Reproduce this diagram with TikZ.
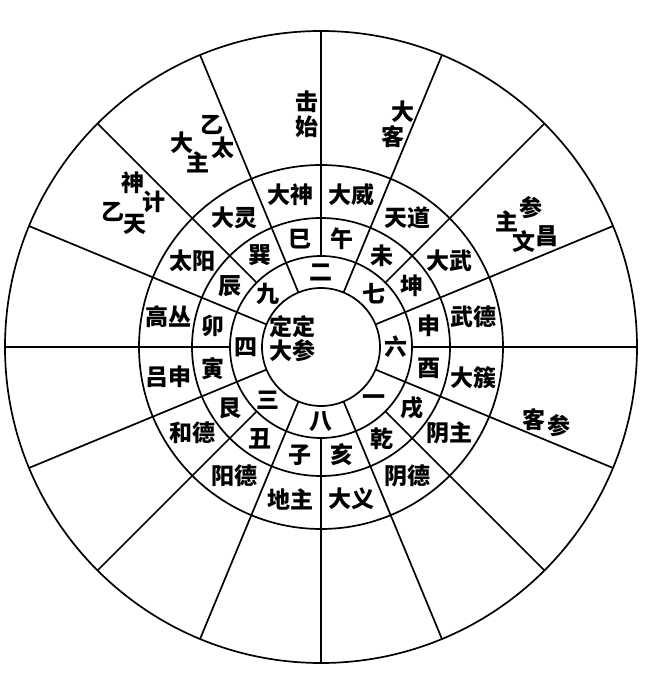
\documentclass[tikz,border=0pt]{standalone}
\usepackage{fontspec}
\newfontfamily\cjk{Noto Sans CJK SC}
\usepackage{tikz}
\usetikzlibrary{positioning}

\begin{document}
\begin{tikzpicture}[x=1pt, y=1pt,
        ring/.style={line width=1.7pt},
        lbl/.style={font={\cjk\bfseries\fontsize{23}{23}\selectfont}, inner sep=0pt}
    ]
    \useasboundingbox (-321,-346) rectangle (328,347);
    % Circles -----------------------------------------------------------
    \foreach \r in {59,91,129,182,316}
        \draw[ring] (0,0) circle (\r);
    % Spokes ------------------------------------------------------------
    \foreach \a in {0,45,...,315}
        \draw[ring] (\a:91) -- (\a:316);
    \foreach \a in {22.5,67.5,...,337.5}
        \draw[ring] (\a:59) -- (\a:316);
    % Centre
    \node[lbl] (ding) at (-29,20) {定定};
    \node[lbl] (dacan) at (-29,-4) {大参};
    % Numbers
    \foreach \t [count=\i] in {二,七,六,一,八,三,四,九}
        \node[lbl] (num-\i) at ({135-45*\i}:75) {\t};
    % Branches and trigrams
    \foreach \t [count=\i] in {午,未,坤,申,酉,戌,乾,亥,子,丑,艮,寅,卯,辰,巽,巳}
        \node[lbl] (zhi-\i) at ({101.25-22.5*\i}:110) {\t};
    % Sixteen gods
    \foreach \t [count=\i] in {大威,天道,大武,武德,大簇,阴主,阴德,大义,
                              地主,阳德,和德,吕申,高丛,太阳,大灵,大神}
        \node[lbl] (god-\i) at ({101.25-22.5*\i}:155) {\t};
    % Outer ring, single characters
    \foreach \t/\x/\y [count=\i] in {击/-14/245, 始/-14/220,
            大/82/235, 客/72/210,
            乙/-109/222, 太/-98/199, 大/-139/204, 主/-123/185,
            神/-188/164, 计/-167/145, 乙/-208/135, 天/-186/123,
            参/210/139, 主/186/126, 文/203/105, 昌/226/111,
            客/213/-73, 参/238/-79}
        \node[lbl] (out-\i) at (\x,\y) {\t};
\end{tikzpicture}
\end{document}
